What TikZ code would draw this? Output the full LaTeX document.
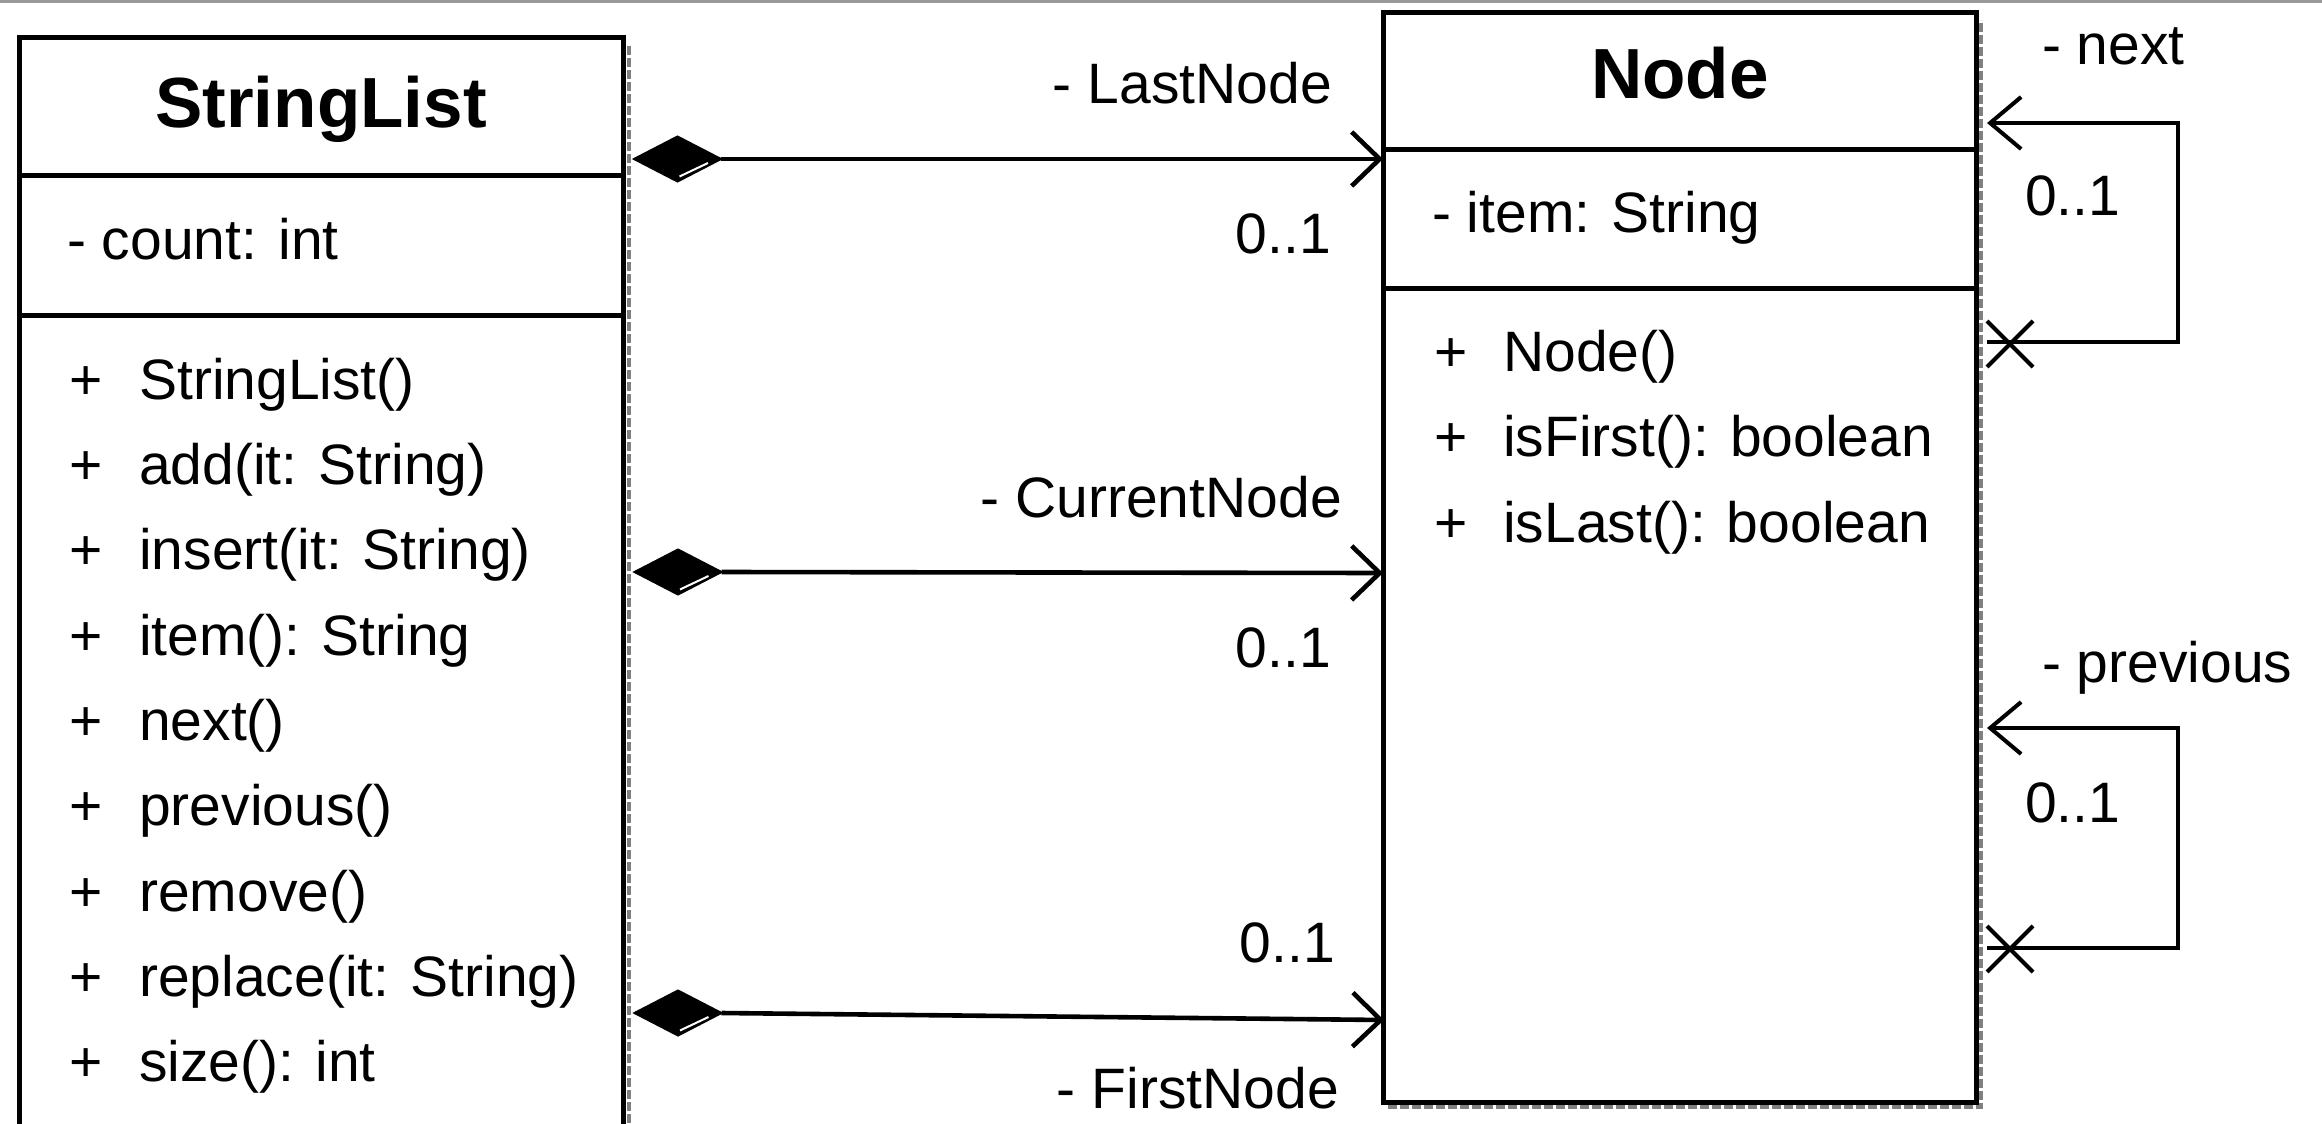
\documentclass[tikz,border=0pt]{standalone}
\usepackage{fontspec}
\setmainfont{Liberation Sans}
\usetikzlibrary{arrows.meta,shapes.geometric}
\begin{document}
\begin{tikzpicture}[x=1pt,y=-1pt,
  txt/.style={inner sep=0pt, font=\fontsize{57}{68}\selectfont},
  ttl/.style={inner sep=0pt, font=\fontsize{71}{85}\selectfont\bfseries},
  umlbox/.style={draw=black, line width=5pt, fill=white, inner sep=0pt, outer sep=0pt},
  sepline/.style={line width=5pt},
  shade/.style={draw=black!50, line width=4pt, dash pattern=on 9pt off 3pt},
  conn/.style={line width=4.6pt, -{Straight Barb[length=28pt,width=54pt]}},
  comp/.style={diamond, fill=black, draw=black, line width=2pt, minimum width=87pt, minimum height=45pt, inner sep=0pt, outer sep=0pt},
  glint/.style={white, line width=2pt},
  selfloop/.style={line width=4pt, -{Straight Barb[length=31pt,width=52pt]}},
  nonav/.style={line width=4pt},
]
\useasboundingbox (0,0) rectangle (2322,1124);
\fill[white] (0,0) rectangle (2322,1124);
\fill[black!40] (0,0) rectangle (2322,3);

% shadows
\draw[shade] (629,46) -- (629,1124);
\draw[shade] (1388,1107) -- (1981,1107) -- (1981,20);

% StringList class
\node[umlbox, minimum width=604pt, minimum height=1112pt, anchor=north west] (SL) at (19,38) {};
\draw[sepline] (19,175) -- (623,175);
\draw[sepline] (19,315) -- (623,315);
\node[ttl, anchor=base] (SLt) at (321,127) {StringList};
\node[txt, anchor=base west] (SLa) at (67,259) {- count: int};
\node[txt, anchor=base west] (SLo1) at (69,399) {\makebox[70pt][l]{+}StringList()};
\node[txt, anchor=base west] (SLo2) at (69,484) {\makebox[70pt][l]{+}add(it: String)};
\node[txt, anchor=base west] (SLo3) at (69,569) {\makebox[70pt][l]{+}insert(it: String)};
\node[txt, anchor=base west] (SLo4) at (69,655) {\makebox[70pt][l]{+}item(): String};
\node[txt, anchor=base west] (SLo5) at (69,740) {\makebox[70pt][l]{+}next()};
\node[txt, anchor=base west] (SLo6) at (69,825) {\makebox[70pt][l]{+}previous()};
\node[txt, anchor=base west] (SLo7) at (69,911) {\makebox[70pt][l]{+}remove()};
\node[txt, anchor=base west] (SLo8) at (69,996) {\makebox[70pt][l]{+}replace(it: String)};
\node[txt, anchor=base west] (SLo9) at (69,1081) {\makebox[70pt][l]{+}size(): int};

% Node class
\node[umlbox, minimum width=593pt, minimum height=1089pt, anchor=north west] (NB) at (1383,13) {};
\draw[sepline] (1383,149) -- (1976,149);
\draw[sepline] (1383,288) -- (1976,288);
\node[ttl, anchor=base] (NBt) at (1680,99) {Node};
\node[txt, anchor=base west] (NBa) at (1432,232) {- item: String};
\node[txt, anchor=base west] (NBo1) at (1434,371) {\makebox[69pt][l]{+}Node()};
\node[txt, anchor=base west] (NBo2) at (1434,456) {\makebox[69pt][l]{+}isFirst(): boolean};
\node[txt, anchor=base west] (NBo3) at (1434,542) {\makebox[69pt][l]{+}isLast(): boolean};

% composition: LastNode
\node[comp] (D1) at (677.5,159) {};
\coordinate (E1) at (1383,159);
\draw[conn] (D1.east) -- (E1);
\draw[glint] ([shift={(2,-5)}]D1.south) -- ([shift={(-13,4)}]D1.east);
\node[txt, anchor=base east] (L1a) at (1332,103) {- LastNode};
\node[txt, anchor=base east] (L1b) at (1331,253) {0..1};

% composition: CurrentNode
\node[comp] (D2) at (678,572) {};
\coordinate (E2) at (1383,573);
\draw[conn] (D2.east) -- (E2);
\draw[glint] ([shift={(2,-5)}]D2.south) -- ([shift={(-13,4)}]D2.east);
\node[txt, anchor=base east] (L2a) at (1342,517) {- CurrentNode};
\node[txt, anchor=base east] (L2b) at (1331,667) {0..1};

% composition: FirstNode
\node[comp] (D3) at (678,1013) {};
\coordinate (E3) at (1384,1020);
\draw[conn] (D3.east) -- (E3);
\draw[glint] ([shift={(2,-5)}]D3.south) -- ([shift={(-13,4)}]D3.east);
\node[txt, anchor=base east] (L3a) at (1335,962) {0..1};
\node[txt, anchor=base east] (L3b) at (1339,1108) {- FirstNode};

% self association: next
\coordinate (N1s) at (1987,342);
\coordinate (N1e) at (1987,123);
\draw[selfloop] (N1s) -- ++(191,0) |- (N1e);
\coordinate (X1) at (2010,344);
\draw[nonav] ([shift={(-23,-23)}]X1) -- ([shift={(23,23)}]X1)
             ([shift={(23,-23)}]X1) -- ([shift={(-23,23)}]X1);
\node[txt, anchor=base west] (S1a) at (2042,65) {- next};
\node[txt, anchor=base west] (S1b) at (2025,215) {0..1};

% self association: previous
\coordinate (N2s) at (1987,948);
\coordinate (N2e) at (1987,728);
\draw[selfloop] (N2s) -- ++(191,0) |- (N2e);
\coordinate (X2) at (2010,949);
\draw[nonav] ([shift={(-23,-23)}]X2) -- ([shift={(23,23)}]X2)
             ([shift={(23,-23)}]X2) -- ([shift={(-23,23)}]X2);
\node[txt, anchor=base west] (S2a) at (2042,682) {- previous};
\node[txt, anchor=base west] (S2b) at (2025,822) {0..1};
\end{tikzpicture}
\end{document}
